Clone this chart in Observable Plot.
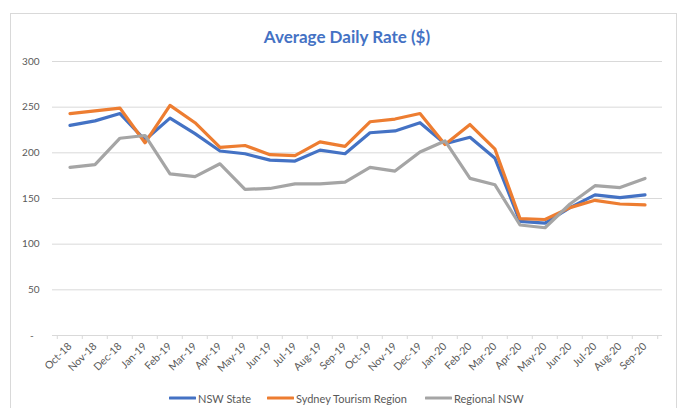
<!DOCTYPE html>
<html>
<head>
<meta charset="utf-8">
<script src="https://cdn.jsdelivr.net/npm/d3@7"></script>
<script src="https://cdn.jsdelivr.net/npm/@observablehq/plot@0.6"></script>
<style>
  body { margin: 0; background: #fff; font-family: Lato, sans-serif; }
  #wrap { position: relative; width: 677px; height: 408px; overflow: hidden; background: #fff; }
  #frame { position: absolute; left: 10px; top: 13px; width: 667px; height: 430px; border: 1px solid #d9d9d9; box-sizing: border-box; }
  #title { position: absolute; left: 0; width: 694px; top: 27px; text-align: center; font-weight: bold; font-size: 17px; line-height: 20px; color: #4472C4; }
  #chart { position: absolute; left: 0; top: 0; }
  .leg { position: absolute; top: 391px; height: 14px; display: flex; align-items: center; font-size: 11px; color: #595959; white-space: nowrap; }
  .leg svg { margin-right: 2px; }
</style>
</head>
<body>
<div id="wrap">
  <div id="frame"></div>
  <div id="title">Average Daily Rate ($)</div>
  <div id="chart"></div>
</div>
<script>
const months = ["Oct-18","Nov-18","Dec-18","Jan-19","Feb-19","Mar-19","Apr-19","May-19","Jun-19","Jul-19","Aug-19","Sep-19",
                "Oct-19","Nov-19","Dec-19","Jan-20","Feb-20","Mar-20","Apr-20","May-20","Jun-20","Jul-20","Aug-20","Sep-20"];
const nswState = [230, 235, 243, 214, 238, 221, 202, 199, 192, 191, 203, 199, 222, 224, 233, 210, 217, 194, 125, 123, 140, 154, 151, 154];
const sydneyRegion = [243, 246, 249, 211, 252, 233, 206, 208, 198, 197, 212, 207, 234, 237, 243, 209, 231, 204, 128, 127, 140, 148, 144, 143];
const regionalNsw = [184, 187, 216, 219, 177, 174, 188, 160, 161, 166, 166, 168, 184, 180, 201, 213, 172, 165, 121, 118, 144, 164, 162, 172];
const seriesNames = ["NSW State", "Sydney Tourism Region", "Regional NSW"];
const seriesColors = ["#4472C4", "#ED7D31", "#A5A5A5"];
const yTicks = [0, 50, 100, 150, 200, 250, 300];

const seriesValues = [nswState, sydneyRegion, regionalNsw];
const long = [];
seriesNames.forEach((name, s) => months.forEach((m, i) => long.push({series: name, month: m, value: seriesValues[s][i]})));

const W = 677, mL = 52, mR = 15;
const bw = (W - mL - mR) / months.length;
const axisGray = "#d9d9d9";

const chart = Plot.plot({
  width: W,
  height: 380,
  marginLeft: mL,
  marginRight: mR,
  marginTop: 61,
  marginBottom: 45,
  style: {fontFamily: "Lato, sans-serif", fontSize: "10px", color: "#595959", background: "transparent"},
  x: {type: "band", domain: months, padding: 0, label: null},
  y: {domain: [0, 300], label: null},
  color: {domain: seriesNames, range: seriesColors},
  marks: [
    Plot.gridY(yTicks.filter(v => v > 0), {stroke: axisGray, strokeOpacity: 1}),
    Plot.axisY(yTicks, {tickSize: 0, tickPadding: 13, label: null, tickFormat: d => d === 0 ? "-\u2007" : d}),
    Plot.ruleY([0], {stroke: axisGray}),
    Plot.ruleX(months, {x: d => d, y1: 0, y2: 0, insetBottom: -4, dx: -bw / 2, stroke: axisGray}),
    Plot.ruleX([months[months.length - 1]], {x: d => d, y1: 0, y2: 0, insetBottom: -4, dx: bw / 2, stroke: axisGray}),
    Plot.axisX({tickSize: 0, tickRotate: -45, tickPadding: 9, fontSize: 10.5, label: null}),
    Plot.line(long, {x: "month", y: "value", z: "series", stroke: "series", strokeWidth: 3.2})
  ]
});
document.getElementById("chart").appendChild(chart);

const legendLefts = [169, 267, 425];
const wrap = document.getElementById("wrap");
seriesNames.forEach((name, i) => {
  const d = document.createElement("div");
  d.className = "leg";
  d.style.left = legendLefts[i] + "px";
  d.innerHTML = `<svg width="27" height="4"><line x1="1" x2="26" y1="2" y2="2" stroke="${seriesColors[i]}" stroke-width="3" stroke-linecap="round"/></svg><span>${name}</span>`;
  wrap.appendChild(d);
});
</script>
</body>
</html>
